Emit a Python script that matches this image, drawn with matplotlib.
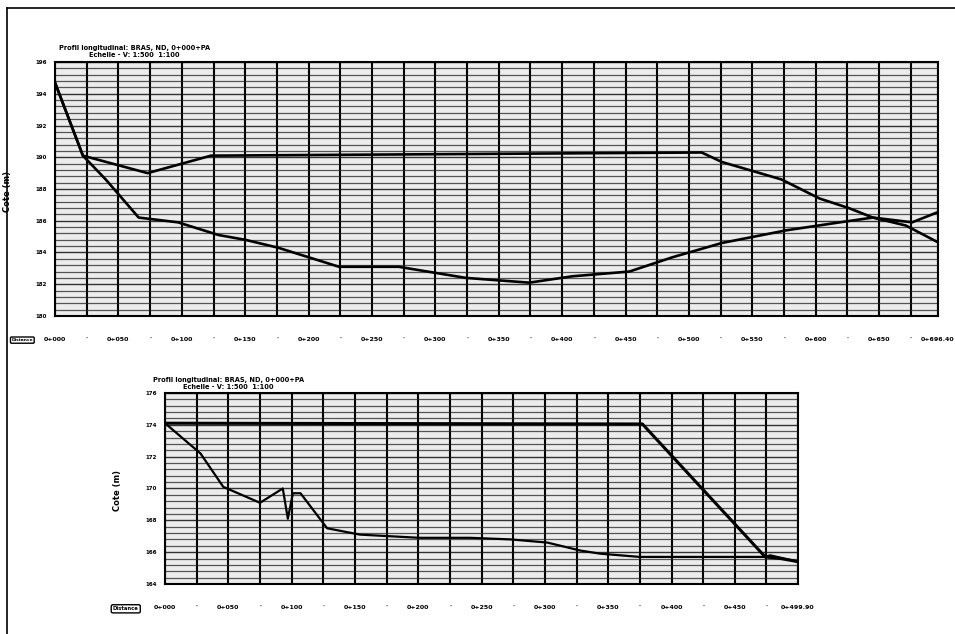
import matplotlib
matplotlib.use("Agg")
import matplotlib.pyplot as plt
from matplotlib.lines import Line2D
from matplotlib.ticker import MultipleLocator

# Upper profile: distance (m) and elevations (m)
top_proj_x = [0, 22, 73, 123, 510, 526, 573, 603, 626, 645, 671, 695]
top_proj_z = [194.7, 190.1, 189.0, 190.1, 190.3, 189.7, 188.6, 187.4, 186.8, 186.2, 185.7, 184.7]
top_terr_x = [0, 22, 40, 66, 97, 129, 150, 176, 224, 271, 324, 374, 408, 453, 487, 526, 577, 619, 645, 676, 695]
top_terr_z = [194.7, 190.1, 188.6, 186.2, 185.9, 185.1, 184.8, 184.3, 183.1, 183.1, 182.4, 182.1,
              182.5, 182.8, 183.7, 184.6, 185.4, 185.9, 186.2, 185.9, 186.5]
top_len = 696.4

# Lower profile
bot_proj_x = [0, 377, 474, 486, 500]
bot_proj_z = [174.1, 174.05, 165.7, 165.6, 165.4]
bot_terr_x = [0, 28, 46, 75, 91, 93, 97, 101, 107, 128, 154, 201, 241, 273, 302, 328, 344, 375, 474, 478, 500]
bot_terr_z = [174.1, 172.2, 170.1, 169.1, 169.9, 170.0, 168.1, 169.7, 169.7, 167.5, 167.1, 166.9,
              166.9, 166.8, 166.6, 166.1, 165.9, 165.7, 165.7, 165.8, 165.4]
bot_len = 499.9

title_txt = "Profil longitudinal: BRAS, ND, 0+000+PA\nEchelle - V: 1:500  1:100"


def chainage(m):
    km = int(m // 1000)
    return f"{km}+{m - km * 1000:03.0f}"


def setup(ax, length, ymin, ymax, title, tx):
    ax.set_facecolor("#ececec")
    ax.set_xlim(0, length)
    ax.set_ylim(ymin, ymax)
    ax.yaxis.set_major_locator(MultipleLocator(2))
    ax.yaxis.set_minor_locator(MultipleLocator(0.4))
    ax.grid(which="major", axis="y", color="#111111", lw=1.0, alpha=0.85)
    ax.grid(which="minor", axis="y", color="#222222", lw=0.9, alpha=0.75)
    ax.grid(which="major", axis="x", color="black", lw=1.5)
    pos = list(range(0, int(length), 25))
    labels = [chainage(p) if i % 2 == 0 else "'" for i, p in enumerate(pos)]
    if length - pos[-1] > 1:
        pos.append(length)
        labels.append(f"0+{length:06.2f}")
    ax.set_xticks(pos)
    ax.set_xticklabels(labels, fontsize=4.5, fontweight="bold")
    ax.tick_params(axis="x", length=0, pad=15)
    ax.tick_params(axis="y", which="both", length=0, pad=6, labelsize=4)
    for lab in ax.get_yticklabels():
        lab.set_fontweight("bold")
    for s in ax.spines.values():
        s.set_linewidth(1.5)
    ax.set_ylabel("Cote (m)", fontsize=6, fontweight="bold")
    ax.text(tx, 1.015, title, transform=ax.transAxes, ha="center", va="bottom",
            fontsize=4.8, fontweight="bold", multialignment="center")


fig = plt.figure(figsize=(9.55, 6.34), dpi=100)

ax1 = fig.add_axes([0.0576, 0.5016, 0.9246, 0.4006])
setup(ax1, top_len, 180, 196, title_txt, 0.09)
ax1.plot(top_proj_x, top_proj_z, color="black", lw=1.9)
ax1.plot(top_terr_x, top_terr_z, color="black", lw=1.9)
ax1.yaxis.set_label_coords(-0.049, 0.49)
ax1.text(-0.037, -0.095, "Distance", transform=ax1.transAxes, ha="center", va="center",
         fontsize=3.2, fontweight="bold",
         bbox=dict(boxstyle="round,pad=0.25", fc="white", ec="black", lw=1))

ax2 = fig.add_axes([0.1728, 0.0789, 0.6628, 0.3013])
setup(ax2, bot_len, 164, 176, title_txt, 0.1)
ax2.plot(bot_proj_x, bot_proj_z, color="black", lw=2.2)
ax2.plot(bot_terr_x, bot_terr_z, color="black", lw=1.6)
ax2.yaxis.set_label_coords(-0.068, 0.49)
ax2.text(-0.062, -0.13, "Distance", transform=ax2.transAxes, ha="center", va="center",
         fontsize=3.8, fontweight="bold",
         bbox=dict(boxstyle="round,pad=0.3", fc="white", ec="black", lw=1))

# page frame
fig.add_artist(Line2D([0.0073, 0.0073], [0.0, 0.987], color="black", lw=1.2))
fig.add_artist(Line2D([0.0073, 1.0], [0.987, 0.987], color="black", lw=1.2))

fig.savefig("out.png", dpi=100)
